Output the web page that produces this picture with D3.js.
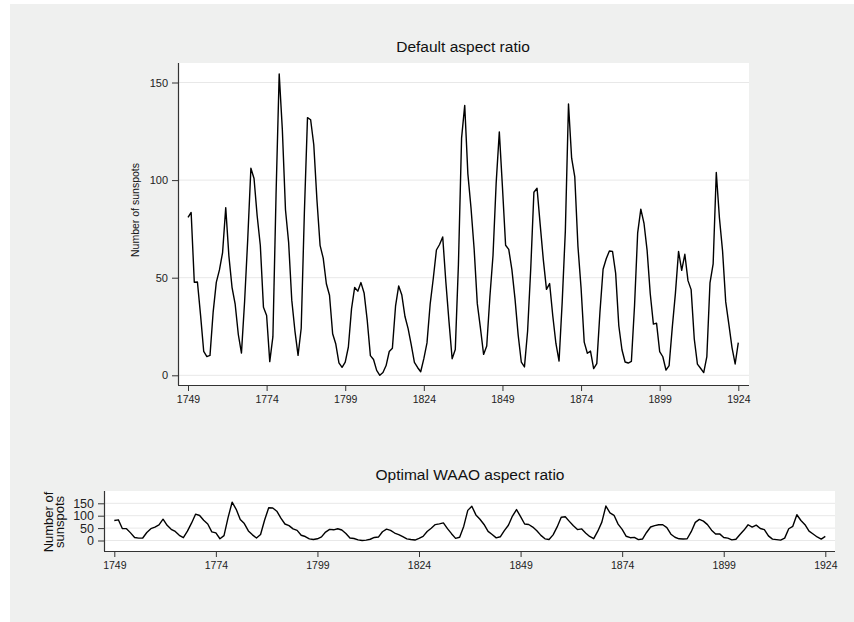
<!DOCTYPE html>
<html>
<head>
<meta charset="utf-8">
<script src="https://cdn.jsdelivr.net/npm/d3@7"></script>
<style>
    html, body { margin: 0; padding: 0; background: #fff; }
    svg { display: block; font-family: Helvetica, "Liberation Sans", Arial, sans-serif; }
</style>
</head>
<body>
<svg id="chart" width="854" height="622"></svg>
<script>

// yearly sunspot numbers, 1749 - 1924
var firstYear = 1749;
var sunspots = [
    80.9, 83.4, 47.7, 47.8, 30.7, 12.2, 9.6, 10.2, 32.4, 47.6,
    54.0, 62.9, 85.9, 61.2, 45.1, 36.4, 20.9, 11.4, 37.8, 69.8,
    106.1, 100.8, 81.6, 66.5, 34.8, 30.6, 7.0, 19.8, 92.5, 154.4,
    125.9, 84.8, 68.1, 38.5, 22.8, 10.2, 24.1, 82.9, 132.0, 130.9,
    118.1, 89.9, 66.6, 60.0, 46.9, 41.0, 21.3, 16.0, 6.4, 4.1,
    6.8, 14.5, 34.0, 45.0, 43.1, 47.5, 42.2, 28.1, 10.1, 8.1,
    2.5, 0.0, 1.4, 5.0, 12.2, 13.9, 35.4, 45.8, 41.1, 30.1,
    23.9, 15.6, 6.6, 4.0, 1.8, 8.5, 16.6, 36.3, 49.6, 64.2,
    67.0, 70.9, 47.8, 27.5, 8.5, 13.2, 56.9, 121.5, 138.3, 103.2,
    85.7, 64.6, 36.7, 24.2, 10.7, 15.0, 40.1, 61.5, 98.5, 124.7,
    96.3, 66.6, 64.5, 54.1, 39.0, 20.6, 6.7, 4.3, 22.7, 54.8,
    93.8, 95.8, 77.2, 59.1, 44.0, 47.0, 30.5, 16.3, 7.3, 37.6,
    74.0, 139.0, 111.2, 101.6, 66.2, 44.7, 17.0, 11.3, 12.4, 3.4,
    6.0, 32.3, 54.3, 59.7, 63.7, 63.5, 52.2, 25.4, 13.1, 6.8,
    6.3, 7.1, 35.6, 73.0, 85.1, 78.0, 64.0, 41.8, 26.2, 26.7,
    12.1, 9.5, 2.7, 5.0, 24.4, 42.0, 63.5, 53.8, 62.0, 48.5,
    43.9, 18.6, 5.7, 3.6, 1.4, 9.6, 47.4, 57.1, 103.9, 80.6,
    63.6, 37.6, 26.1, 14.2, 5.8, 16.7
];
var years = sunspots.map(function (v, i) { return firstYear + i; });

var xTicks = [1749, 1774, 1799, 1824, 1849, 1874, 1899, 1924];
var yTicks = [0, 50, 100, 150];

var titles = ['Default aspect ratio', 'Optimal WAAO aspect ratio'];
var yTitle = 'Number of sunspots';
var yTitleLines = ['Number of', 'sunspots'];


(function () {

    var svg = d3.select('#chart');

    // grey graph region
    svg.append('rect')
        .attr('x', 10).attr('y', 4)
        .attr('width', 844).attr('height', 618)
        .attr('fill', '#eff0ef');

    var panels = [{
        title: titles[0],
        box: { left: 178, right: 749, top: 63, bottom: 385 },
        xRange: [188, 738.3],
        yRange: [375.3, 82.5],
        titleX: 463, titleY: 52,
        ytitle: [yTitle], ytitleX: [139], ytitleY: 210,
        ytitleSize: '10.5px', yTickSize: '11px'
    }, {
        title: titles[1],
        box: { left: 104, right: 835, top: 491, bottom: 551 },
        xRange: [114.3, 825.3],
        yRange: [540.5, 503.3],
        titleX: 470, titleY: 480,
        ytitle: yTitleLines, ytitleX: [53, 63.5], ytitleY: 522,
        ytitleSize: '13px', yTickSize: '12.5px'
    }];

    panels.forEach(function (p) {
        var b = p.box;
        var x = d3.scaleLinear().domain([xTicks[0], xTicks[xTicks.length - 1]]).range(p.xRange);
        var y = d3.scaleLinear().domain([0, 150]).range(p.yRange);

        var g = svg.append('g');

        g.append('rect')
            .attr('x', b.left).attr('y', b.top)
            .attr('width', b.right - b.left).attr('height', b.bottom - b.top)
            .attr('fill', '#fff');

        // gridlines
        g.selectAll('.grid')
            .data(yTicks).enter()
            .append('line')
            .attr('x1', b.left).attr('x2', b.right)
            .attr('y1', function (d) { return y(d); })
            .attr('y2', function (d) { return y(d); })
            .attr('stroke', '#e8e8e8')
            .attr('stroke-width', 1);

        var line = d3.line()
            .x(function (d, i) { return x(years[i]); })
            .y(function (d) { return y(d); });

        g.append('path')
            .datum(sunspots)
            .attr('d', line)
            .attr('fill', 'none')
            .attr('stroke', '#000')
            .attr('stroke-width', 1.4)
            .attr('stroke-linejoin', 'round');

        // y axis
        var yAxis = d3.axisLeft(y).tickValues(yTicks).tickSize(6).tickPadding(4);
        var ya = g.append('g')
            .attr('transform', 'translate(' + b.left + ',0)')
            .call(yAxis);
        ya.select('.domain').attr('d', 'M0.5,' + b.top + 'V' + b.bottom);

        // x axis
        var xAxis = d3.axisBottom(x).tickValues(xTicks).tickFormat(d3.format('d')).tickSize(6).tickPadding(5);
        var xa = g.append('g')
            .attr('transform', 'translate(0,' + b.bottom + ')')
            .call(xAxis);
        xa.select('.domain').attr('d', 'M' + b.left + ',0.5H' + b.right);

        [ya, xa].forEach(function (a) {
            a.select('.domain').attr('stroke', '#333').attr('stroke-width', 1.2);
            a.selectAll('.tick line').attr('stroke', '#333');
            a.selectAll('.tick text')
                .attr('fill', '#222')
                .style('font-size', '10.5px')
                .style('font-family', 'Helvetica, "Liberation Sans", Arial, sans-serif');
        });
        ya.selectAll('.tick text').style('font-size', p.yTickSize);

        // titles
        g.append('text')
            .attr('x', p.titleX).attr('y', p.titleY)
            .attr('text-anchor', 'middle')
            .style('font-size', '15.5px')
            .attr('fill', '#111')
            .text(p.title);

        p.ytitle.forEach(function (t, i) {
            g.append('text')
                .attr('transform', 'translate(' + p.ytitleX[i] + ',' + p.ytitleY + ') rotate(-90)')
                .attr('text-anchor', 'middle')
                .style('font-size', p.ytitleSize)
                .attr('fill', '#111')
                .text(t);
        });
    });

})();
</script>
</body>
</html>
